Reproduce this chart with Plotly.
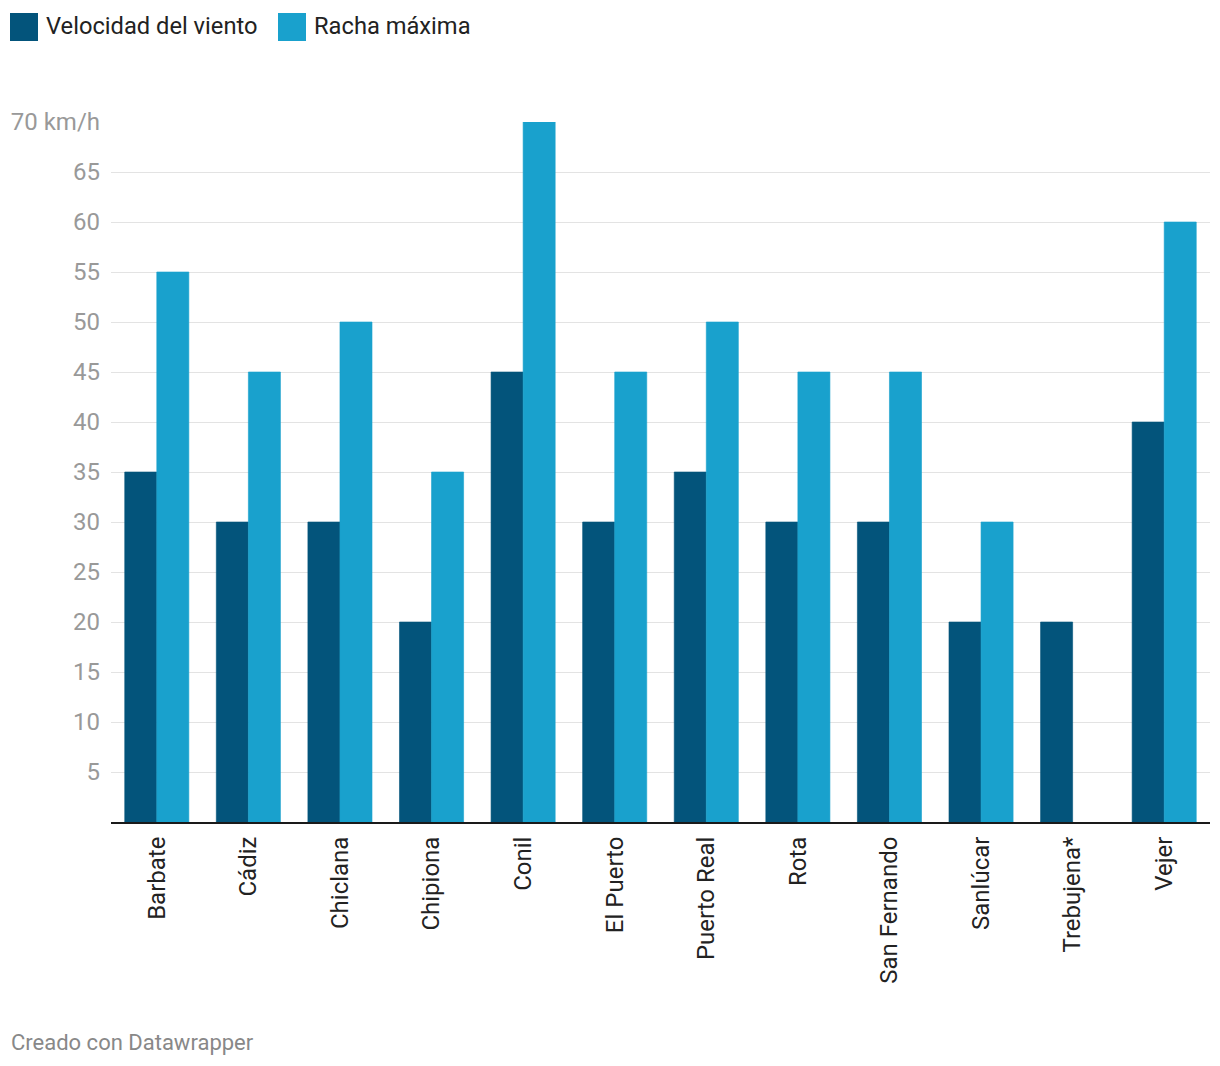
import plotly.graph_objects as go

categories = ["Barbate", "Cádiz", "Chiclana", "Chipiona", "Conil", "El Puerto",
              "Puerto Real", "Rota", "San Fernando", "Sanlúcar", "Trebujena*", "Vejer"]
velocidad = [35, 30, 30, 20, 45, 30, 35, 30, 30, 20, 20, 40]
racha = [55, 45, 50, 35, 70, 45, 50, 45, 45, 30, None, 60]
series_names = ["Velocidad del viento", "Racha máxima"]
tick_vals = [5, 10, 15, 20, 25, 30, 35, 40, 45, 50, 55, 60, 65, 70]
tick_text = ["5", "10", "15", "20", "25", "30", "35", "40", "45", "50", "55", "60", "65", "70 km/h"]

DARK = "#03547b"
LIGHT = "#19a1cd"

W, H = 1220, 1066
L, R, T, B = 111, 10, 122, 244
pw = W - L - R
ph = H - T - B

def px(x):
    return (x - L) / pw

def py(y):
    return (H - B - y) / ph

fig = go.Figure()
fig.add_trace(go.Bar(x=categories, y=velocidad, name=series_names[0], marker_color=DARK,
                     marker_line_width=0.6, marker_line_color=DARK, showlegend=False))
fig.add_trace(go.Bar(x=categories, y=racha, name=series_names[1], marker_color=LIGHT,
                     marker_line_width=0.6, marker_line_color=LIGHT, showlegend=False))

shapes = []
annotations = []
# custom legend
legend_items = [(10, 44, series_names[0], DARK), (278, 312, series_names[1], LIGHT)]
for x0, xt, name, col in legend_items:
    shapes.append(dict(type="rect", xref="paper", yref="paper",
                       x0=px(x0), x1=px(x0 + 28), y0=py(13), y1=py(41),
                       fillcolor=col, line_width=0, layer="above"))
    annotations.append(dict(xref="paper", yref="paper", x=px(xt), y=py(26),
                            text=name, showarrow=False, xanchor="left", yanchor="middle",
                            font=dict(family="Roboto", size=23.7, color="#222222")))
annotations.append(dict(xref="paper", yref="paper", x=px(9), y=py(1042),
                        text="Creado con Datawrapper", showarrow=False,
                        xanchor="left", yanchor="middle",
                        font=dict(family="Roboto", size=22, color="#888888")))

fig.update_layout(
    width=W, height=H,
    margin=dict(l=L, r=R, t=T, b=B, autoexpand=False),
    paper_bgcolor="white", plot_bgcolor="white",
    barmode="group", bargap=0.3, bargroupgap=0,
    font=dict(family="Roboto"),
    shapes=shapes, annotations=annotations,
    xaxis=dict(tickangle=-90, tickfont=dict(family="Roboto", size=24, color="#222222"),
               showgrid=False, showline=True, linecolor="#1a1a1a", linewidth=2,
               ticks="", ticklabelstandoff=3),
    yaxis=dict(range=[0, 70], tickvals=tick_vals, ticktext=tick_text,
               tickfont=dict(family="Roboto", size=24, color="#999999"),
               showgrid=True, gridcolor="#e3e3e3", gridwidth=1,
               zeroline=False, showline=False, ticks="", ticklabelstandoff=10),
)

fig.write_html("out.html")
